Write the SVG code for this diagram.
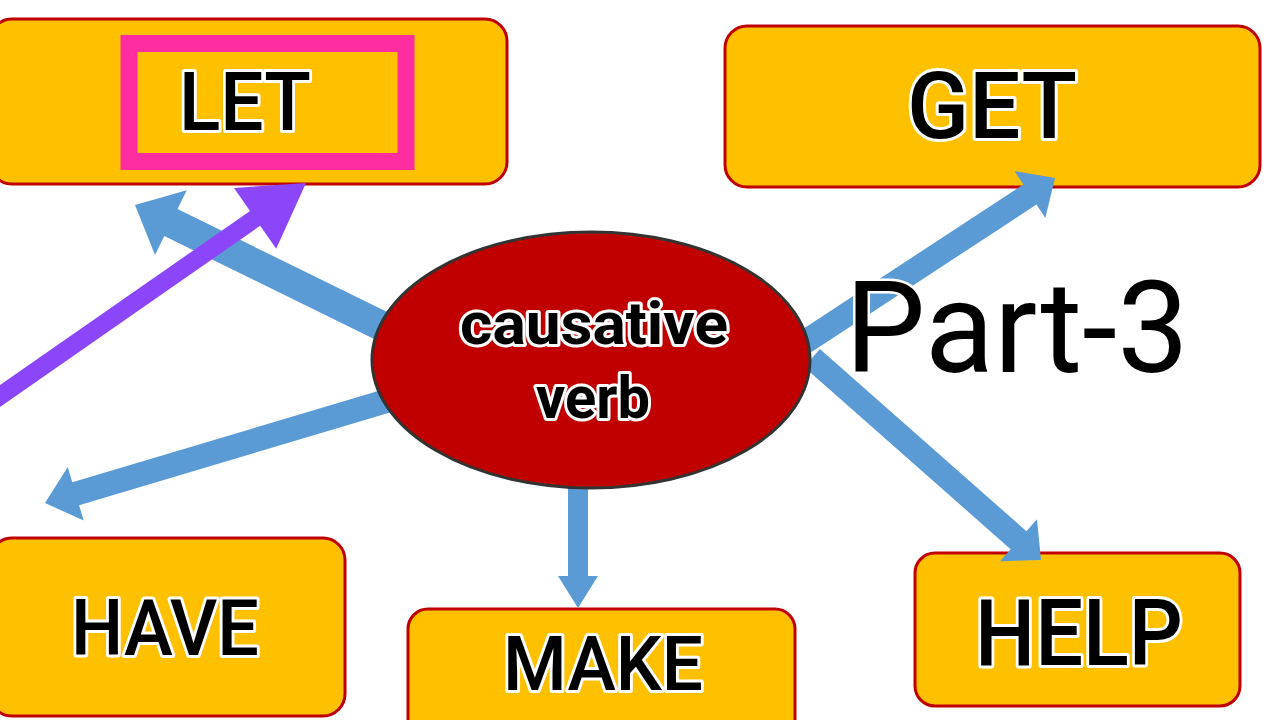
<svg xmlns="http://www.w3.org/2000/svg" width="1280" height="720" viewBox="0 0 1280 720">
<style>
.box{fill:#FFC000;stroke:#C00000;stroke-width:3}
.lbl{font-family:Roboto,"Liberation Sans",sans-serif;font-weight:500;fill:#000;stroke:#fff;stroke-width:6;stroke-linejoin:round;paint-order:stroke;text-anchor:middle}
.blue{fill:#5B9BD5}
.purple{fill:#8C46FA}
</style>
<rect x="0" y="0" width="1280" height="720" fill="#fff"/>
<g id="node-let">
<rect class="box" x="-10" y="19" width="517" height="165" rx="22"/>
<rect x="129" y="43.5" width="277" height="118" fill="none" stroke="#FF2DA0" stroke-width="17"/>
<text class="lbl" x="245" y="130" font-size="82" textLength="132" lengthAdjust="spacingAndGlyphs">LET</text>
</g>
<g id="node-get">
<rect class="box" x="725" y="26" width="535" height="161" rx="22"/>
<text class="lbl" x="992" y="138" font-size="92" textLength="170" lengthAdjust="spacingAndGlyphs">GET</text>
</g>
<g id="node-have">
<rect class="box" x="-10" y="538" width="355" height="178" rx="22"/>
<text class="lbl" x="165" y="655" font-size="78" textLength="188" lengthAdjust="spacingAndGlyphs">HAVE</text>
</g>
<g id="node-make">
<rect class="box" x="408" y="609" width="387" height="140" rx="20"/>
<text class="lbl" x="603" y="690" font-size="76" textLength="200" lengthAdjust="spacingAndGlyphs">MAKE</text>
</g>
<g id="node-help">
<rect class="box" x="915" y="553" width="325" height="153" rx="20"/>
<text class="lbl" x="1079" y="665" font-size="92" textLength="208" lengthAdjust="spacingAndGlyphs">HELP</text>
</g>
<g id="connectors">
<polygon class="blue" points="406.6,321.5 177.5,209.1 186.8,190.3 135,205 155,254.9 164.3,236.1 393.4,348.5"/>
<polygon class="blue" points="386.6,388.5 72.3,482.3 67.7,467 45,503 83.7,520.6 79.1,505.3 393.4,411.5"/>
<polygon class="blue" points="568,480 568,576 558,576 578,608 598,576 588,576 588,480"/>
<polygon class="blue" points="811.6,352 1036.5,204.5 1045.3,217.9 1055,178 1014.5,171.1 1023.3,184.5 798.4,332"/>
<polygon class="blue" points="804.1,367 1010.6,549.2 1000,561.2 1041,560 1037,519.2 1026.4,531.2 819.9,349"/>
<polygon class="purple" points="-4.9,410.4 260.2,225.8 276.2,248.8 306,183 234,188 250,211 -15.1,395.6"/>
</g>
<g id="node-center">
<ellipse cx="591" cy="360" rx="219" ry="128" fill="#C00000" stroke="#333" stroke-width="3"/>
<text class="lbl" x="594" y="344" font-size="60" font-weight="bold" style="font-weight:bold" textLength="268" lengthAdjust="spacingAndGlyphs">causative</text>
<text class="lbl" x="593" y="418" font-size="60" style="font-weight:bold" textLength="114" lengthAdjust="spacingAndGlyphs">verb</text>
</g>
<g id="title">
<text x="845" y="372" font-family="Roboto,'Liberation Sans',sans-serif" font-size="128" fill="#000" stroke="#fff" stroke-width="5" stroke-linejoin="round" paint-order="stroke" textLength="344" lengthAdjust="spacingAndGlyphs">Part-3</text>
</g>
</svg>
